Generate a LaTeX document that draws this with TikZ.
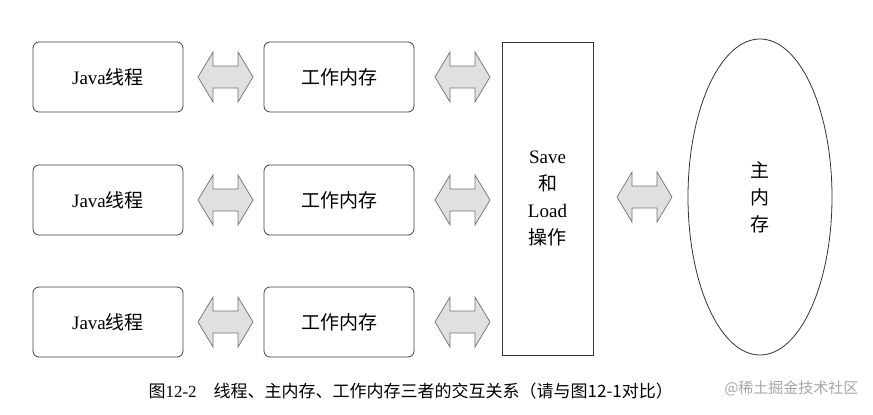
\documentclass[tikz,border=0pt]{standalone}
\usepackage{fontspec}
\usetikzlibrary{shapes.geometric}
\setmainfont{Liberation Serif}
\newfontfamily\cjk{Noto Sans CJK SC}
\begin{document}
\begin{tikzpicture}[x=1pt,y=-1pt]
\useasboundingbox (0,0) rectangle (873,415);
\tikzset{rbox/.style={draw=black!75,line width=0.8pt,rounded corners=6pt,minimum width=150pt,minimum height=70pt,font=\cjk\fontsize{19}{22}\selectfont},
dbl/.style={fill=black!12,draw=black!55,line width=0.7pt}}
\newcommand\darr[2]{\draw[dbl] (#1,#2) -- ++(15,-25) -- ++(0,14) -- ++(25,0) -- ++(0,-14) -- ++(15,25) -- ++(-15,25) -- ++(0,-14) -- ++(-25,0) -- ++(0,14) -- cycle;}
\foreach \y/\n in {77/a,200/b,322/c}{
\node[rbox] (j\n) at (108,\y) {{\fontspec{Liberation Serif}Java}线程};
\node[rbox] (w\n) at (339,\y) {工作内存};
\darr{198}{\y}
\darr{435}{\y}
}
\node[draw=black!80,line width=0.8pt,minimum width=91pt,minimum height=313pt,align=center,font=\cjk\fontsize{19}{27}\selectfont] (s) at (547.5,198.5) {{\fontspec{Liberation Serif}Save}\\和\\{\fontspec{Liberation Serif}Load}\\操作};
\darr{617}{197}
\node[draw=black!80,line width=0.8pt,ellipse,inner sep=0pt,minimum width=144pt,minimum height=316pt,align=center,font=\cjk\fontsize{19}{27}\selectfont] (m) at (760,197) {主\\内\\存};
\node[font=\cjk\fontsize{17}{18}\selectfont,anchor=west] (cap) at (145,391) {图{\fontspec{Liberation Serif}12-2}\quad 线程、主内存、工作内存三者的交互关系（请与图12-1对比）};
\node[font=\cjk\fontsize{15}{18}\selectfont,text=black!35,anchor=east] (wm) at (862,388) {@稀土掘金技术社区};
\end{tikzpicture}
\end{document}
